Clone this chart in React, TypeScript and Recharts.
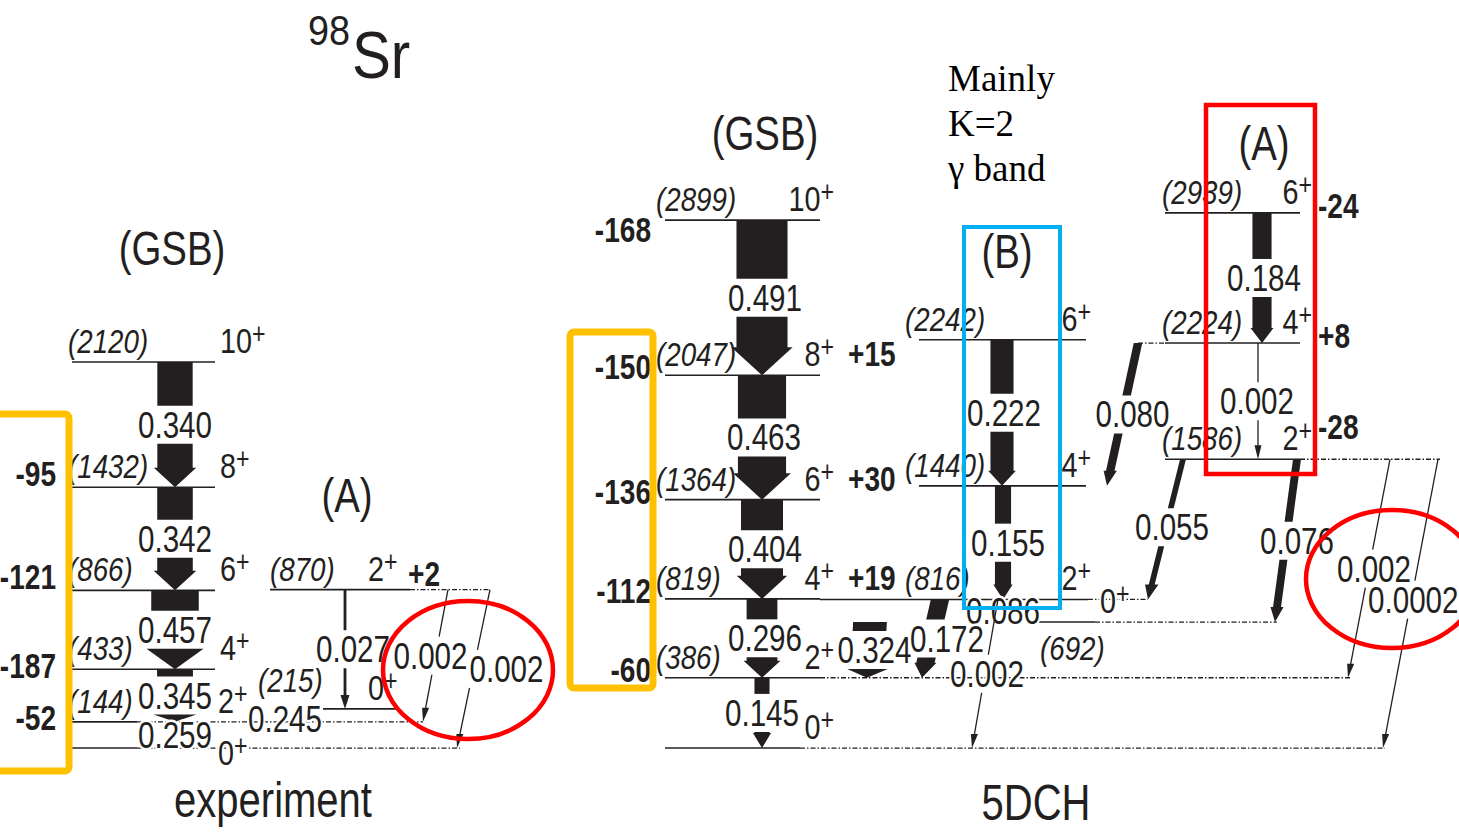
import { ComposedChart, ReferenceLine, XAxis, YAxis } from 'recharts';

const W = 1459;
const H = 832;
const INK = '#231f20';
const SANS = '"Liberation Sans", Arial, Helvetica, sans-serif';
const SERIF = '"Liberation Serif", "Times New Roman", serif';

// energy axis (keV), zero sits on the ground-state line
const Y_DOMAIN: [number, number] = [-461, 4108];
// bar width in px per unit of B(E2)
const BAR_SCALE = 104;
const LABEL_GAP = 19;

type BandKey = 'expGsb' | 'expA' | 'thGsb' | 'thB' | 'thA';

// ---- level energies (keV), spins and energy shifts ----
const expGsbEnergy = [0, 144, 433, 866, 1432, 2120];
const expGsbSpin = ['0', '2', '4', '6', '8', '10'];
const expGsbShift = ['', '-52', '-187', '-121', '-95', ''];

const expAEnergy = [215, 870];
const expASpin = ['0', '2'];
const expAShift = ['', '+2'];

const thGsbEnergy = [0, 386, 819, 1364, 2047, 2899];
const thGsbSpin = ['0', '2', '4', '6', '8', '10'];
const thGsbShift = ['', '-60', '-112', '-136', '-150', '-168'];
const thGsbShiftRight = ['', '', '+19', '+30', '+15', ''];

const thBEnergy = [692, 816, 1440, 2242];
const thBSpin = ['0', '2', '4', '6'];

const thAEnergy = [1586, 2224, 2939];
const thASpin = ['2', '4', '6'];
const thAShift = ['-28', '+8', '-24'];

// ---- B(E2) values between levels ----
interface Transition {
  from: string;
  to: string;
  be2: string;
}

const expTransitions: Transition[] = [
  { from: 'expGsb:10', to: 'expGsb:8', be2: '0.340' },
  { from: 'expGsb:8', to: 'expGsb:6', be2: '0.342' },
  { from: 'expGsb:6', to: 'expGsb:4', be2: '0.457' },
  { from: 'expGsb:4', to: 'expGsb:2', be2: '0.345' },
  { from: 'expGsb:2', to: 'expGsb:0', be2: '0.259' },
  { from: 'expA:2', to: 'expA:0', be2: '0.027' },
  { from: 'expA:0', to: 'expGsb:2', be2: '0.245' },
  { from: 'expA:2', to: 'expGsb:2', be2: '0.002' },
  { from: 'expA:2', to: 'expGsb:0', be2: '0.002' },
];

const thTransitions: Transition[] = [
  { from: 'thGsb:10', to: 'thGsb:8', be2: '0.491' },
  { from: 'thGsb:8', to: 'thGsb:6', be2: '0.463' },
  { from: 'thGsb:6', to: 'thGsb:4', be2: '0.404' },
  { from: 'thGsb:4', to: 'thGsb:2', be2: '0.296' },
  { from: 'thGsb:2', to: 'thGsb:0', be2: '0.145' },
  { from: 'thB:6', to: 'thB:4', be2: '0.222' },
  { from: 'thB:4', to: 'thB:2', be2: '0.155' },
  { from: 'thB:2', to: 'thB:0', be2: '0.086' },
  { from: 'thB:0', to: 'thGsb:2', be2: '0.324' },
  { from: 'thB:2', to: 'thGsb:2', be2: '0.172' },
  { from: 'thB:2', to: 'thGsb:0', be2: '0.002' },
  { from: 'thA:6', to: 'thA:4', be2: '0.184' },
  { from: 'thA:4', to: 'thA:2', be2: '0.002' },
  { from: 'thA:4', to: 'thB:4', be2: '0.080' },
  { from: 'thA:2', to: 'thB:2', be2: '0.055' },
  { from: 'thA:2', to: 'thB:0', be2: '0.076' },
  { from: 'thA:2', to: 'thGsb:2', be2: '0.002' },
  { from: 'thA:2', to: 'thGsb:0', be2: '0.0002' },
];

// ---- layout ----
interface BandStyle {
  x1: number;
  x2: number;
  eX: number;
  spinX: number;
  spinAnchor: 'start' | 'end';
  shiftX?: number;
  shiftAnchor?: 'start' | 'end';
  shiftDy?: number;
  rightX?: number;
}

const bandStyle: Record<BandKey, BandStyle> = {
  expGsb: { x1: 72, x2: 215, eX: 68, spinX: 220, spinAnchor: 'start', shiftX: 56, shiftAnchor: 'end', shiftDy: -1 },
  expA: { x1: 270, x2: 410, eX: 270, spinX: 368, spinAnchor: 'start', shiftX: 408, shiftAnchor: 'start', shiftDy: -4 },
  thGsb: { x1: 665, x2: 820, eX: 656, spinX: 834, spinAnchor: 'end', shiftX: 651, shiftAnchor: 'end', shiftDy: 4, rightX: 848 },
  thB: { x1: 919, x2: 1086, eX: 905, spinX: 1091, spinAnchor: 'end' },
  thA: { x1: 1165, x2: 1300, eX: 1162, spinX: 1312, spinAnchor: 'end', shiftX: 1318, shiftAnchor: 'start', shiftDy: 5 },
};

interface LevelTweak {
  x1?: number;
  x2?: number;
  eX?: number;
  eDy?: number;
  spinX?: number;
  spinDy?: number;
  spinAnchor?: 'start' | 'end';
  shiftDy?: number;
}

const levelTweaks: Record<string, LevelTweak> = {
  'expGsb:4': { shiftDy: 9 },
  'expGsb:2': { x2: 137, spinX: 218, shiftDy: 8 },
  'expGsb:0': { x2: 137, spinX: 218, spinDy: 17 },
  'expA:0': { x1: 323, x2: 397, eX: 258, eDy: -17 },
  'thGsb:10': { shiftDy: 22 },
  'thGsb:0': { x2: 800 },
  'thB:2': { x1: 820, x2: 1088 },
  'thB:0': { x1: 1030, x2: 1095, eX: 1040, eDy: 38, spinX: 1100, spinAnchor: 'start' },
  'thA:2': { shiftDy: -20 },
};

// dash-dot continuations of levels: [level, from x, to x]
const dottedRuns: [string, number, number][] = [
  ['expGsb:2', 137, 423],
  ['expGsb:0', 137, 460],
  ['expA:2', 410, 490],
  ['thGsb:2', 820, 1350],
  ['thGsb:0', 800, 1385],
  ['thB:2', 1088, 1148],
  ['thB:0', 1095, 1277],
  ['thA:4', 1138, 1165],
  ['thA:2', 1300, 1440],
];

// arrow start/end x and label offsets
const arrowLayout: Record<string, { xa: number; xb: number; ldx?: number; ldy?: number }> = {
  'expGsb:10>expGsb:8': { xa: 175, xb: 175 },
  'expGsb:8>expGsb:6': { xa: 175, xb: 175 },
  'expGsb:6>expGsb:4': { xa: 175, xb: 175 },
  'expGsb:4>expGsb:2': { xa: 175, xb: 175 },
  'expGsb:2>expGsb:0': { xa: 175, xb: 175 },
  'expA:2>expA:0': { xa: 345, xb: 345, ldx: 8 },
  'expA:0>expGsb:2': { xa: 285, xb: 285, ldy: 4 },
  'expA:2>expGsb:2': { xa: 448, xb: 423, ldx: -5 },
  'expA:2>expGsb:0': { xa: 490, xb: 457, ldx: 33 },
  'thGsb:10>thGsb:8': { xa: 762, xb: 762, ldx: 3 },
  'thGsb:8>thGsb:6': { xa: 762, xb: 762, ldx: 2 },
  'thGsb:6>thGsb:4': { xa: 762, xb: 762, ldx: 3 },
  'thGsb:4>thGsb:2': { xa: 762, xb: 762, ldx: 3 },
  'thGsb:2>thGsb:0': { xa: 762, xb: 762, ldx: 0 },
  'thB:6>thB:4': { xa: 1002, xb: 1002, ldx: 2 },
  'thB:4>thB:2': { xa: 1003, xb: 1003, ldx: 5 },
  'thB:2>thB:0': { xa: 1003, xb: 1003, ldx: 0 },
  'thB:0>thGsb:2': { xa: 870, xb: 867, ldx: 6 },
  'thB:2>thGsb:2': { xa: 940, xb: 922, ldx: 16 },
  'thB:2>thGsb:0': { xa: 998, xb: 972, ldx: 2 },
  'thA:6>thA:4': { xa: 1262, xb: 1262, ldx: 2 },
  'thA:4>thA:2': { xa: 1258, xb: 1258, ldx: -1 },
  'thA:4>thB:4': { xa: 1138, xb: 1107, ldx: 10 },
  'thA:2>thB:2': { xa: 1183, xb: 1148, ldx: 6, ldy: -2 },
  'thA:2>thB:0': { xa: 1297, xb: 1275, ldx: 11 },
  'thA:2>thGsb:2': { xa: 1390, xb: 1348, ldx: 5 },
  'thA:2>thGsb:0': { xa: 1438, xb: 1383, ldx: 2, ldy: -4 },
};

interface Level {
  key: string;
  band: BandKey;
  spin: string;
  energy: number;
  shift: string;
  shiftRight: string;
}

const makeLevels = (band: BandKey, energies: number[], spins: string[], shifts: string[] = [], right: string[] = []): Level[] =>
  energies.map((energy, i) => ({
    key: `${band}:${spins[i]}`,
    band,
    spin: spins[i],
    energy,
    shift: shifts[i] ?? '',
    shiftRight: right[i] ?? '',
  }));

const levels: Level[] = [
  ...makeLevels('expGsb', expGsbEnergy, expGsbSpin, expGsbShift),
  ...makeLevels('expA', expAEnergy, expASpin, expAShift),
  ...makeLevels('thGsb', thGsbEnergy, thGsbSpin, thGsbShift, thGsbShiftRight),
  ...makeLevels('thB', thBEnergy, thBSpin),
  ...makeLevels('thA', thAEnergy, thASpin, thAShift),
];
const levelByKey = new Map(levels.map((l) => [l.key, l]));
const transitions = [...expTransitions, ...thTransitions];

const levelSpan = (l: Level) => {
  const s = bandStyle[l.band];
  const t = levelTweaks[l.key] ?? {};
  return [t.x1 ?? s.x1, t.x2 ?? s.x2];
};

// squeezed text, like the narrow sans of the figure
const Txt = ({
  x, y, size, anchor = 'start', sx = 0.8, weight = 400, italic = false, family = SANS, halo = false, children,
}: any) => (
  <text
    transform={`translate(${x} ${y}) scale(${sx} 1)`}
    fontSize={size}
    fontFamily={family}
    fontWeight={weight}
    fontStyle={italic ? 'italic' : 'normal'}
    textAnchor={anchor}
    fill={INK}
    stroke={halo ? '#fff' : undefined}
    strokeWidth={halo ? 5 : undefined}
    strokeLinejoin="round"
    paintOrder="stroke"
  >
    {children}
  </text>
);

const LevelShape = ({ x1, y1, x2, y2, level }: any) => {
  const s = bandStyle[level.band as BandKey];
  const t = levelTweaks[level.key] ?? {};
  return (
    <g>
      <line x1={x1} y1={y1} x2={x2} y2={y2} stroke={INK} strokeWidth={1.6} />
      {level.energy > 0 && (
        <Txt x={t.eX ?? s.eX} y={y1 + (t.eDy ?? -9)} size={33} sx={0.84} italic>
          ({level.energy})
        </Txt>
      )}
      <Txt x={t.spinX ?? s.spinX} y={y1 + (t.spinDy ?? -9)} size={36} anchor={t.spinAnchor ?? s.spinAnchor} halo>
        {level.spin}
        <tspan dy={-9} fontSize={29}>+</tspan>
      </Txt>
      {level.shift && s.shiftX !== undefined && (
        <Txt x={s.shiftX} y={y1 + (t.shiftDy ?? s.shiftDy ?? 0)} size={36} sx={0.78} weight={700} anchor={s.shiftAnchor}>
          {level.shift}
        </Txt>
      )}
      {level.shiftRight && s.rightX !== undefined && (
        <Txt x={s.rightX} y={y1 - 9} size={36} sx={0.78} weight={700}>
          {level.shiftRight}
        </Txt>
      )}
    </g>
  );
};

const ArrowShape = ({ x1, y1, x2, y2, tr, lay }: any) => {
  const value = parseFloat(tr.be2);
  const w = Math.max(1.3, value * BAR_SCALE);
  const xAt = (y: number) => x1 + ((x2 - x1) * (y - y1)) / (y2 - y1);
  const len = Math.hypot(x2 - x1, y2 - y1);
  const uy = (y2 - y1) / len;
  const mid = (y1 + y2) / 2 + (lay.ldy ?? 0);
  const topEnd = Math.min(mid - LABEL_GAP, y2);
  const botStart = Math.max(mid + LABEL_GAP, y1);
  const thin = w < 4;
  const half = w / 2 / uy;
  const parts: JSX.Element[] = [];

  if (topEnd - y1 > 0.5) {
    if (thin) {
      parts.push(<line key="t" x1={x1} y1={y1} x2={xAt(topEnd)} y2={topEnd} stroke={INK} strokeWidth={w} />);
    } else {
      const pts = [
        [xAt(y1) - half, y1], [xAt(y1) + half, y1],
        [xAt(topEnd) + half, topEnd], [xAt(topEnd) - half, topEnd],
      ];
      parts.push(<polygon key="t" points={pts.map((p) => p.join(',')).join(' ')} fill={INK} />);
    }
  }

  if (y2 - botStart > 0.5) {
    const room = y2 - botStart;
    if (thin) {
      const hl = Math.min(14, room);
      const hw = Math.max(3.5, w * 1.6) / uy;
      const b = y2 - hl;
      parts.push(<line key="b" x1={xAt(botStart)} y1={botStart} x2={xAt(b + 2)} y2={b + 2} stroke={INK} strokeWidth={w} />);
      parts.push(
        <polygon key="h" points={`${xAt(b) - hw},${b} ${x2},${y2} ${xAt(b) + hw},${b}`} fill={INK} />,
      );
    } else {
      const hl = Math.min(Math.max(0.55 * w, 15), room);
      const hw = Math.max(0.6 * w, 6.5) / uy;
      const b = y2 - hl;
      const pts = [
        [xAt(botStart) - half, botStart], [xAt(botStart) + half, botStart],
        [xAt(b) + half, b], [xAt(b) + hw, b], [x2, y2], [xAt(b) - hw, b], [xAt(b) - half, b],
      ];
      parts.push(<polygon key="b" points={pts.map((p) => p.join(',')).join(' ')} fill={INK} />);
    }
  }

  return (
    <g>
      {parts}
      <Txt x={xAt(mid) + (lay.ldx ?? 0)} y={mid + 13} size={37} anchor="middle" halo>
        {tr.be2}
      </Txt>
    </g>
  );
};

// band titles, panel names and highlight frames
const Overlay = () => (
  <svg width={W} height={H} style={{ position: 'absolute', left: 0, top: 0, pointerEvents: 'none' }}>
    <Txt x={308} y={45} size={42} sx={0.9}>98</Txt>
    <Txt x={352} y={78} size={67} sx={0.87}>Sr</Txt>
    <Txt x={172} y={265} size={48} anchor="middle">(GSB)</Txt>
    <Txt x={347} y={512} size={48} anchor="middle">(A)</Txt>
    <Txt x={765} y={150} size={48} anchor="middle">(GSB)</Txt>
    <Txt x={1007} y={268} size={48} anchor="middle">(B)</Txt>
    <Txt x={1264} y={160} size={48} anchor="middle">(A)</Txt>
    <Txt x={273} y={817} size={50} anchor="middle">experiment</Txt>
    <Txt x={1036} y={820} size={50} anchor="middle">5DCH</Txt>
    <text x={948} y={91} fontFamily={SERIF} fontSize={37} fill="#000">Mainly</text>
    <text x={948} y={136} fontFamily={SERIF} fontSize={37} fill="#000">K=2</text>
    <text x={948} y={181} fontFamily={SERIF} fontSize={37} fill="#000">γ band</text>

    <rect x={-20} y={414} width={89} height={357} rx={4} fill="none" stroke="#FFC000" strokeWidth={7} />
    <rect x={570} y={332} width={83} height={356} rx={4} fill="none" stroke="#FFC000" strokeWidth={7} />
    <rect x={964} y={227} width={96} height={381} fill="none" stroke="#00B0F0" strokeWidth={4} />
    <rect x={1206} y={105} width={109} height={369} fill="none" stroke="#FF0000" strokeWidth={4.5} />
    <ellipse cx={468} cy={670} rx={85} ry={69} fill="none" stroke="#FF0000" strokeWidth={4.5} />
    <ellipse cx={1392} cy={579} rx={86} ry={69} fill="none" stroke="#FF0000" strokeWidth={4.5} />
  </svg>
);

export default function App() {
  return (
    <div style={{ position: 'relative', width: W, height: H, background: '#fff' }}>
      <style>{'body{margin:0;background:#fff}'}</style>
      <ComposedChart width={W} height={H} margin={{ top: 0, right: 0, bottom: 0, left: 0 }}>
        <XAxis type="number" dataKey="x" domain={[0, W]} hide allowDataOverflow />
        <YAxis type="number" dataKey="y" domain={Y_DOMAIN} hide allowDataOverflow />
        {dottedRuns.map(([key, xa, xb]) => {
          const l = levelByKey.get(key)!;
          return (
            <ReferenceLine
              key={`dot-${key}`}
              segment={[{ x: xa, y: l.energy }, { x: xb, y: l.energy }]}
              ifOverflow="visible"
              stroke={INK}
              strokeWidth={1.3}
              strokeDasharray="5 2 1.5 2"
            />
          );
        })}
        {levels.map((l) => {
          const [xa, xb] = levelSpan(l);
          return (
            <ReferenceLine
              key={`lvl-${l.key}`}
              segment={[{ x: xa, y: l.energy }, { x: xb, y: l.energy }]}
              ifOverflow="visible"
              shape={(p: any) => <LevelShape {...p} level={l} />}
            />
          );
        })}
        {transitions.map((tr) => {
          const id = `${tr.from}>${tr.to}`;
          const lay = arrowLayout[id];
          const a = levelByKey.get(tr.from)!;
          const b = levelByKey.get(tr.to)!;
          return (
            <ReferenceLine
              key={`tr-${id}-${tr.be2}`}
              segment={[{ x: lay.xa, y: a.energy }, { x: lay.xb, y: b.energy }]}
              ifOverflow="visible"
              shape={(p: any) => <ArrowShape {...p} tr={tr} lay={lay} />}
            />
          );
        })}
      </ComposedChart>
      <Overlay />
    </div>
  );
}
